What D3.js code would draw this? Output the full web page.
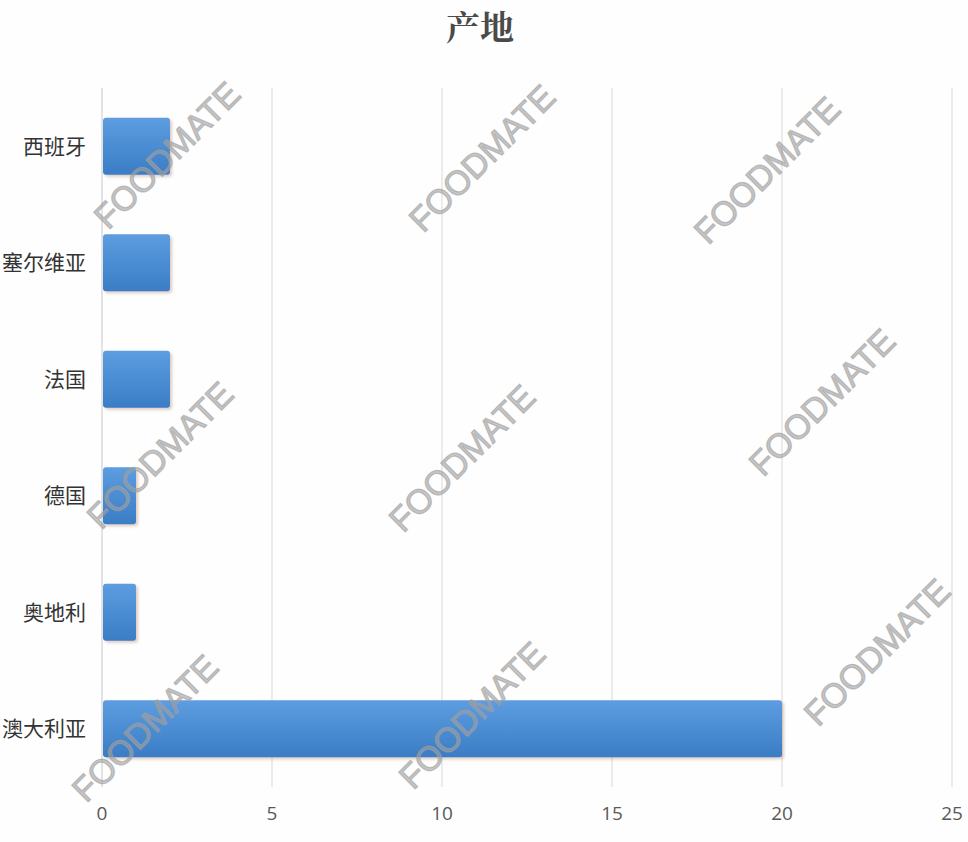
<!DOCTYPE html>
<html><head><meta charset="utf-8">
<script src="https://cdn.jsdelivr.net/npm/d3@7"></script>
<style>html,body{margin:0;padding:0;background:#fefefe;}svg{display:block;}</style>
</head><body>
<svg id="chart" width="968" height="842"></svg>
<script>
const categories = ["西班牙","塞尔维亚","法国","德国","奥地利","澳大利亚"];
const values = [2,2,2,1,1,20];
const xTicks = [0,5,10,15,20,25];
const title = "产地";
const watermark = "FOODMATE";
const wmPos = [[167,155],[482,158],[767,170],[160,455],[462,458],[822,402],[145,728],[472,715],[877,652]];

const svg = d3.select("#chart");
const W = 968, H = 842;
const m = {left:102, right:16, top:88, bottom:55};
const x = d3.scaleLinear().domain([0,25]).range([m.left, 952]);
const y = d3.scaleBand().domain(categories).range([m.top, H-m.bottom]).paddingInner(0.51).paddingOuter(0.255);

const defs = svg.append("defs");
const g = defs.append("linearGradient").attr("id","bg").attr("x1",0).attr("y1",0).attr("x2",0).attr("y2",1);
g.append("stop").attr("offset","0%").attr("stop-color","#5d9de0");
g.append("stop").attr("offset","100%").attr("stop-color","#3a7dc5");
const f = defs.append("filter").attr("id","sh").attr("x","-10%").attr("y","-10%").attr("width","130%").attr("height","140%");
f.append("feDropShadow").attr("dx",2).attr("dy",2).attr("stdDeviation",1.5).attr("flood-color","#a07050").attr("flood-opacity",0.35);

// title
svg.append("text").attr("x",480).attr("y",40).attr("text-anchor","middle")
  .attr("font-family","'Noto Serif CJK SC','Noto Sans CJK SC',serif").attr("font-weight","bold")
  .attr("font-size",34).attr("fill","#4a4a4a").text(title);

// gridlines
svg.append("g").selectAll("line").data(xTicks).join("line")
  .attr("x1",d=>x(d)).attr("x2",d=>x(d)).attr("y1",m.top).attr("y2",H-m.bottom)
  .attr("stroke",(d)=>d===0?"#c8c8c8":"#d9d9d9").attr("stroke-width",1);

// x tick labels
svg.append("g").selectAll("text").data(xTicks).join("text")
  .attr("x",d=>x(d)).attr("y",820).attr("text-anchor","middle")
  .attr("font-family","'Open Sans','DejaVu Sans',sans-serif").attr("font-size",19).attr("fill","#595959")
  .text(d=>d);

// category labels
svg.append("g").selectAll("text").data(categories).join("text")
  .attr("x",86).attr("y",d=>y(d)+y.bandwidth()/2).attr("dy","0.36em").attr("text-anchor","end")
  .attr("font-family","'Noto Sans CJK SC',sans-serif").attr("font-size",21).attr("fill","#333")
  .text(d=>d);

// bars
svg.append("g").selectAll("rect").data(categories).join("rect")
  .attr("x",x(0)+1).attr("y",d=>y(d)).attr("height",y.bandwidth())
  .attr("width",(d,i)=>x(values[i])-x(0)-1).attr("rx",3).attr("ry",3)
  .attr("fill","url(#bg)").attr("filter","url(#sh)");

// watermarks
svg.append("g").selectAll("text").data(wmPos).join("text")
  .attr("transform",d=>`translate(${d[0]},${d[1]}) rotate(-45)`)
  .attr("text-anchor","middle").attr("dy","0.35em")
  .attr("font-family","'Liberation Sans',Arial,sans-serif").attr("font-size",34)
  .attr("fill","#a0a0a0").attr("fill-opacity",0.6)
  .attr("stroke","#a0a0a0").attr("stroke-opacity",0.6).attr("stroke-width",1.3)
  .text(watermark);
</script>
</body></html>
